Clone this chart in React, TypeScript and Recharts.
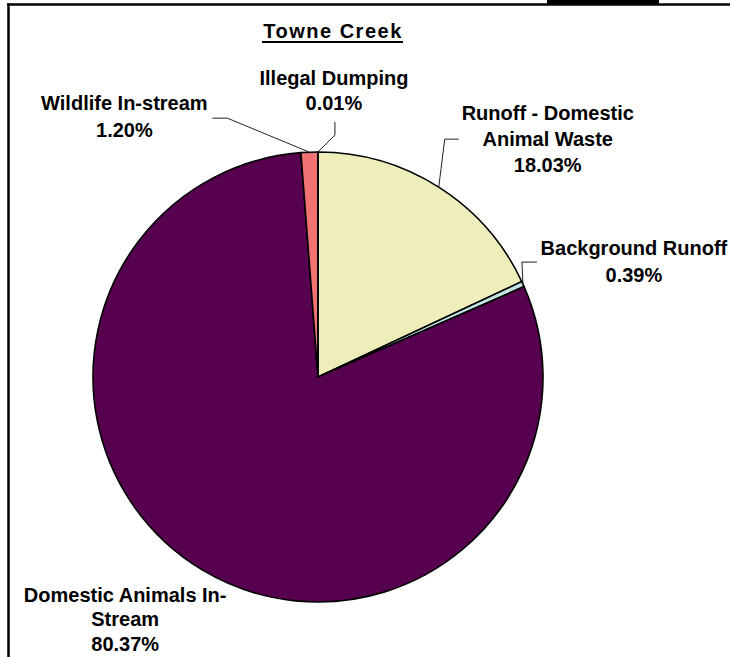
import React from 'react';
import { PieChart, Pie, Cell } from 'recharts';

const title = 'Towne Creek';
const categories = [
  'Runoff - Domestic Animal Waste',
  'Background Runoff',
  'Domestic Animals In-Stream',
  'Wildlife In-stream',
  'Illegal Dumping',
];
const shares = [18.03, 0.39, 80.37, 1.2, 0.01];
const labelLines = [
  ['Runoff - Domestic', 'Animal Waste'],
  ['Background Runoff'],
  ['Domestic Animals In-', 'Stream'],
  ['Wildlife In-stream'],
  ['Illegal Dumping'],
];
const colors = ['#EEEEBB', '#C4E4E4', '#580050', '#F07272', '#9999FF'];

const data = categories.map((name, i) => ({ name, value: shares[i] }));

// label placement relative to the slice's rim anchor (leader elbow points, text centre/baseline)
const labelLayout = [
  { leader: [[6, -48], [20, -48]], text: [109, -67], lineH: 26 },
  { leader: [[-1, -22], [14, -22]], text: [111, -29], lineH: 27 },
  { leader: [], text: [-77, 32], lineH: 24.5 },
  { leader: [[-82, -34], [-97, -34]], text: [-185, -42], lineH: 27 },
  { leader: [[17, -17], [17, -30]], text: [16, -67], lineH: 25 },
];

const RAD = Math.PI / 180;
const FONT = '"Liberation Sans", Arial, sans-serif';

const renderLabel = (props: any) => {
  const { cx, cy, midAngle, outerRadius, index, value } = props;
  const ax = cx + outerRadius * Math.cos(-midAngle * RAD);
  const ay = cy + outerRadius * Math.sin(-midAngle * RAD);
  const lay = labelLayout[index];
  const pts = [[ax, ay], ...lay.leader.map(([dx, dy]) => [ax + dx, ay + dy])];
  const lines = [...labelLines[index], `${Number(value).toFixed(2)}%`];
  const tx = ax + lay.text[0];
  const ty = ay + lay.text[1];
  return (
    <g key={`lbl-${index}`}>
      {pts.length > 1 && (
        <polyline
          points={pts.map((p) => p.join(',')).join(' ')}
          fill="none"
          stroke="#222"
          strokeWidth={1}
        />
      )}
      <text
        x={tx}
        y={ty}
        textAnchor="middle"
        fontFamily={FONT}
        fontWeight="bold"
        fontSize={20}
        fill="#000"
      >
        {lines.map((ln, i) => (
          <tspan key={i} x={tx} y={ty + i * lay.lineH}>
            {ln}
          </tspan>
        ))}
      </text>
    </g>
  );
};

export default function App() {
  return (
    <div
      style={{
        position: 'absolute',
        left: 0,
        top: 0,
        width: 730,
        height: 657,
        background: '#fff',
        overflow: 'hidden',
      }}
    >
      <PieChart width={730} height={657} margin={{ top: 0, right: 0, bottom: 0, left: 0 }}>
        <Pie
          data={data}
          dataKey="value"
          nameKey="name"
          cx={318}
          cy={377}
          outerRadius={225}
          startAngle={90}
          endAngle={-270}
          stroke="#000"
          strokeWidth={1.6}
          label={renderLabel}
          labelLine={false}
          isAnimationActive={false}
        >
          {data.map((d, i) => (
            <Cell key={d.name} fill={colors[i]} />
          ))}
        </Pie>
      </PieChart>
      <svg
        width={730}
        height={657}
        style={{ position: 'absolute', left: 0, top: 0, pointerEvents: 'none' }}
      >
        <line x1={7} y1={4.5} x2={730} y2={4.5} stroke="#000" strokeWidth={2.5} />
        <line x1={8.5} y1={3.5} x2={8.5} y2={657} stroke="#000" strokeWidth={2.5} />
        <rect x={547} y={0} width={112} height={5} fill="#000" />
        <text
          x={333}
          y={38}
          textAnchor="middle"
          fontFamily={FONT}
          fontWeight="bold"
          fontSize={20}
          letterSpacing={1.5}
          fill="#000"
        >
          {title}
        </text>
        <line x1={262} y1={42} x2={403} y2={42} stroke="#000" strokeWidth={2} />
      </svg>
    </div>
  );
}
